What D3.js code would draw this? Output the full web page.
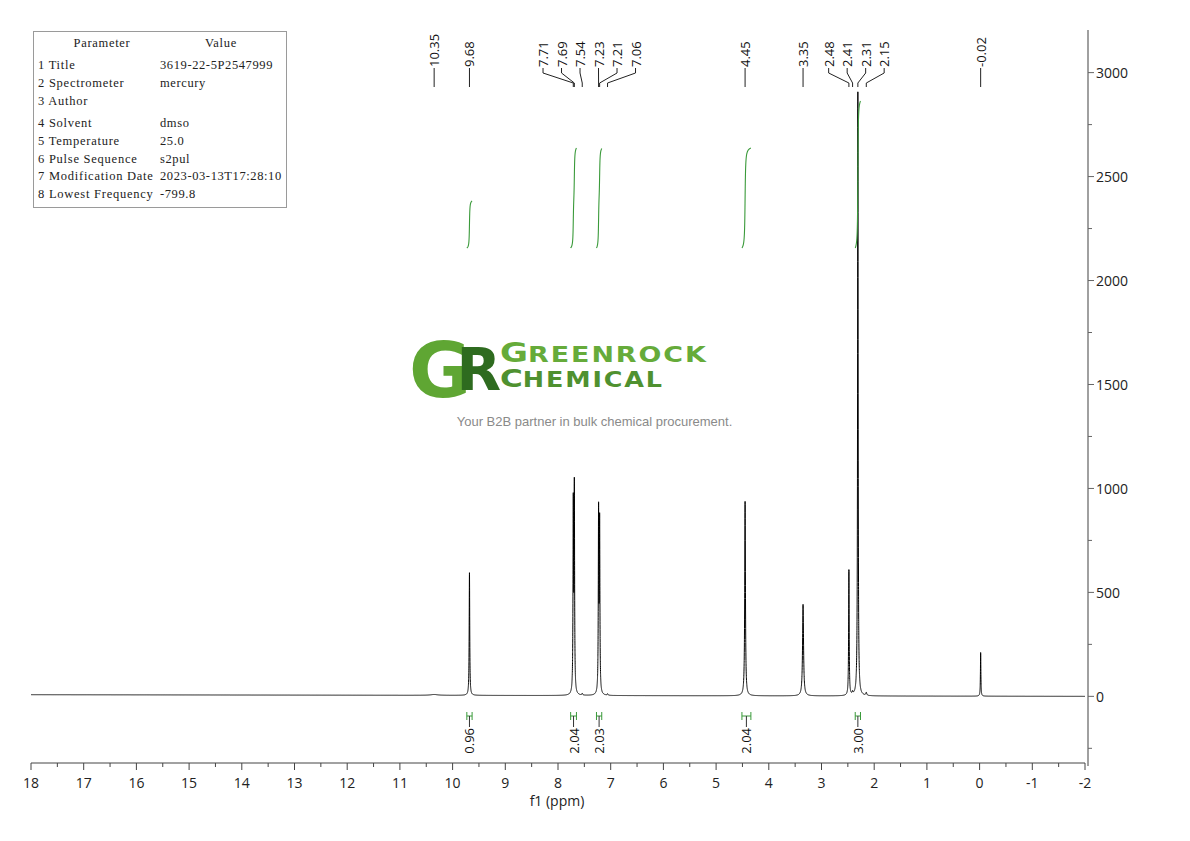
<!DOCTYPE html>
<html><head><meta charset="utf-8">
<script src="https://cdn.jsdelivr.net/npm/d3@7"></script>
<style>body{margin:0;background:#fff;} svg{display:block;}</style>
</head><body>
<svg id="c" width="1190" height="841"></svg>
<script>
// ---------- data ----------
const peakShifts  = [10.35, 9.68, 7.71, 7.69, 7.54, 7.23, 7.21, 7.06, 4.45, 3.35, 2.48, 2.41, 2.31, 2.15, -0.02];
const peakHeights = [4, 590, 895, 976, 8, 865, 808, 7, 935, 440, 604, 12, 2905, 14, 210];
const peakWidths  = [0.08, 0.006, 0.006, 0.006, 0.008, 0.006, 0.006, 0.008, 0.008, 0.011, 0.006, 0.008, 0.006, 0.01, 0.005];
const peakLabels  = ["10.35","9.68","7.71","7.69","7.54","7.23","7.21","7.06","4.45","3.35","2.48","2.41","2.31","2.15","-0.02"];
const baselineLeft = 8, baselineRight = 0;   // intensity at 18 ppm and -2 ppm
const intFrom   = [9.73, 7.76, 7.27, 4.51, 2.36];
const intTo     = [9.63, 7.65, 7.17, 4.34, 2.26];
const intValues = [0.96, 2.04, 2.03, 2.04, 3.00];
const xTicks = [18,17,16,15,14,13,12,11,10,9,8,7,6,5,4,3,2,1,0,-1,-2];
const xTickLabels = ["18","17","16","15","14","13","12","11","10","9","8","7","6","5","4","3","2","1","0","-1","-2"];
const yTicks = [0,500,1000,1500,2000,2500,3000];
const yTickLabels = ["0","500","1000","1500","2000","2500","3000"];
const paramNames  = ["1 Title","2 Spectrometer","3 Author","4 Solvent","5 Temperature","6 Pulse Sequence","7 Modification Date","8 Lowest Frequency"];
const paramValues = ["3619-22-5P2547999","mercury","","dmso","25.0","s2pul","2023-03-13T17:28:10","-799.8"];

// ---------- scales ----------
const svg = d3.select("#c");
const yDomain = [-335, 3205];
const x = d3.scaleLinear().domain([18, -2]).range([31, 1085]);
const y = d3.scaleLinear().domain(yDomain).range([766, 30]);
const yInt = d3.scaleLinear().domain([0, 3]).range([248, 101]);
const labelFont = "'Open Sans','Noto Sans',sans-serif";

// ---------- spectrum ----------
function baseline(d){ return baselineRight + (baselineLeft - baselineRight) * (d - (-2)) / 20; }
function intensity(d){
  let s = baseline(d);
  for (let i = 0; i < peakShifts.length; i++){
    const w = peakWidths[i], dd = d - peakShifts[i];
    s += peakHeights[i] * w * w / (dd * dd + w * w);
  }
  return s;
}
let samples = d3.range(18, -2.0001, -0.0025);
peakShifts.forEach((p, i) => {
  const w = peakWidths[i];
  samples = samples.concat(d3.range(p - 15 * w, p + 15 * w, w / 8));
  samples.push(p);
});
samples.sort((a, b) => b - a);
const spec = samples.filter(d => d <= 18 && d >= -2).map(d => [d, intensity(d)]);

svg.append("path")
  .attr("d", d3.line().x(d => x(d[0])).y(d => y(d[1]))(spec))
  .attr("fill", "none").attr("stroke", "#000").attr("stroke-width", 1);

// ---------- integral curves ----------
intValues.forEach((v, k) => {
  const pts = spec.filter(d => d[0] <= intFrom[k] && d[0] >= intTo[k]);
  let cum = 0; const c = [[pts[0][0], 0]];
  for (let i = 1; i < pts.length; i++){
    const a = pts[i-1], b = pts[i];
    cum += ((a[1] - baseline(a[0])) + (b[1] - baseline(b[0]))) / 2 * (a[0] - b[0]);
    c.push([b[0], cum]);
  }
  const tot = cum;
  svg.append("path")
    .attr("d", d3.line().x(d => x(d[0])).y(d => yInt(d[1] / tot * v))(c))
    .attr("fill", "none").attr("stroke", "#3a9a3a").attr("stroke-width", 1.1);

  // bottom marker + label
  const x1 = x(intFrom[k]), x2 = x(intTo[k]), xm = (x1 + x2) / 2;
  const g = svg.append("g");
  g.append("path").attr("d", `M${x1},712V720M${x2},712V720M${x1},716H${x2}`)
    .attr("stroke", "#3a9a3a").attr("fill", "none").attr("stroke-width", 1);
  g.append("line").attr("x1", xm).attr("x2", xm).attr("y1", 716).attr("y2", 727)
    .attr("stroke", "#333").attr("stroke-width", 1);
  g.append("text").text(v.toFixed(2))
    .attr("transform", `translate(${xm},728) rotate(-90)`)
    .attr("text-anchor", "end").attr("dominant-baseline", "central")
    .attr("font-family", labelFont).attr("font-size", 13).attr("fill", "#111");
});

// ---------- peak labels (spread clusters) ----------
const spacing = 18.5;
const order = peakShifts.map((p, i) => i).sort((a, b) => x(peakShifts[a]) - x(peakShifts[b]));
let clusters = order.map(i => ({ idx: [i], c: x(peakShifts[i]) }));
let merged = true;
while (merged){
  merged = false;
  for (let j = 0; j < clusters.length - 1; j++){
    const A = clusters[j], B = clusters[j+1];
    const aR = A.c + (A.idx.length - 1) * spacing / 2;
    const bL = B.c - (B.idx.length - 1) * spacing / 2;
    if (bL - aR < spacing){
      const idx = A.idx.concat(B.idx);
      clusters.splice(j, 2, { idx, c: d3.mean(idx, i => x(peakShifts[i])) });
      merged = true; break;
    }
  }
}
clusters.forEach(cl => {
  const n = cl.idx.length;
  cl.idx.forEach((i, m) => {
    const lx = cl.c + (m - (n - 1) / 2) * spacing;
    const px = x(peakShifts[i]);
    svg.append("path").attr("d", `M${lx},68V73L${px},83V87`)
      .attr("fill", "none").attr("stroke", "#222").attr("stroke-width", 1);
    svg.append("text").text(peakLabels[i])
      .attr("transform", `translate(${lx},67) rotate(-90)`)
      .attr("text-anchor", "start").attr("dominant-baseline", "central")
      .attr("font-family", labelFont).attr("font-size", 13).attr("fill", "#111");
  });
});

// ---------- x axis ----------
const xa = svg.append("g");
xa.append("line").attr("x1", x(18)).attr("x2", x(-2)).attr("y1", 763).attr("y2", 763)
  .attr("stroke", "#444").attr("stroke-width", 1);
const xMinor = xTicks.slice(0, -1).map(t => t - 0.5);
xa.selectAll(".mj").data(xTicks).join("line")
  .attr("x1", d => x(d)).attr("x2", d => x(d)).attr("y1", 763).attr("y2", 770)
  .attr("stroke", "#444");
xa.selectAll(".mn").data(xMinor).join("line")
  .attr("x1", d => x(d)).attr("x2", d => x(d)).attr("y1", 763).attr("y2", 767)
  .attr("stroke", "#444");
xa.selectAll("text").data(xTicks).join("text")
  .attr("x", d => x(d)).attr("y", 788).attr("text-anchor", "middle")
  .text((d, i) => xTickLabels[i])
  .attr("font-family", labelFont).attr("font-size", 14).attr("fill", "#222");
svg.append("text").text("f1 (ppm)").attr("x", 557).attr("y", 806).attr("text-anchor", "middle")
  .attr("font-family", labelFont).attr("font-size", 14).attr("fill", "#222");

// ---------- y axis ----------
const ya = svg.append("g");
const yx = 1088;
ya.append("line").attr("x1", yx).attr("x2", yx).attr("y1", y(yDomain[1])).attr("y2", y(yDomain[0]))
  .attr("stroke", "#808080").attr("stroke-width", 1.5);
const yMinor = [-250].concat(yTicks.map(t => t + 250)).filter(t => t >= yDomain[0] && t <= yDomain[1]);
ya.selectAll(".mj").data(yTicks).join("line")
  .attr("x1", yx).attr("x2", yx + 6).attr("y1", d => y(d)).attr("y2", d => y(d)).attr("stroke", "#666");
ya.selectAll(".mn").data(yMinor).join("line")
  .attr("x1", yx).attr("x2", yx + 4).attr("y1", d => y(d)).attr("y2", d => y(d)).attr("stroke", "#666");
ya.selectAll("text").data(yTicks).join("text")
  .attr("x", yx + 8).attr("y", d => y(d)).attr("dominant-baseline", "central")
  .text((d, i) => yTickLabels[i])
  .attr("font-family", labelFont).attr("font-size", 14).attr("fill", "#222");

// ---------- parameter table ----------
const tf = "'Liberation Serif','DejaVu Serif',serif";
const tb = svg.append("g");
tb.append("rect").attr("x", 33.5).attr("y", 31.5).attr("width", 253).attr("height", 176)
  .attr("fill", "#fff").attr("stroke", "#9a9a9a");
tb.append("text").text("Parameter").attr("x", 102).attr("y", 47).attr("text-anchor", "middle")
  .attr("font-family", tf).attr("font-size", 12.5).attr("letter-spacing", 0.7).attr("fill", "#222");
tb.append("text").text("Value").attr("x", 221).attr("y", 47).attr("text-anchor", "middle")
  .attr("font-family", tf).attr("font-size", 12.5).attr("letter-spacing", 0.7).attr("fill", "#222");
const rowY = [69, 87, 105, 127, 145, 163, 180, 198];
paramNames.forEach((n, i) => {
  tb.append("text").text(n).attr("x", 38).attr("y", rowY[i])
    .attr("font-family", tf).attr("font-size", 12.5).attr("letter-spacing", 0.75).attr("fill", "#222");
  tb.append("text").text(paramValues[i]).attr("x", 160).attr("y", rowY[i])
    .attr("font-family", tf).attr("font-size", 12.5).attr("letter-spacing", 0.6).attr("fill", "#222");
});

// ---------- logo ----------
const lg = svg.append("g");
const gr = lg.append("text").attr("x", 409).attr("y", 397)
  .attr("font-family", "'DejaVu Sans',sans-serif").attr("font-weight", "bold");
gr.append("tspan").text("G").attr("font-size", 76).attr("fill", "#5fa633");
gr.append("tspan").text("R").attr("font-size", 58).attr("fill", "#2e6b1f").attr("dx", -15).attr("dy", -7);
function wideText(big, rest, bx, by, targetW, bigSize, restSize, color){
  const t = lg.append("text").attr("font-family", "'DejaVu Sans',sans-serif")
    .attr("fill", color).attr("font-weight", 600);
  t.append("tspan").text(big).attr("font-size", bigSize);
  t.append("tspan").text(rest).attr("font-size", restSize).attr("letter-spacing", 1.5);
  const w = t.node().getComputedTextLength();
  t.attr("transform", `translate(${bx},${by}) scale(${targetW / w},1)`);
}
wideText("G", "REENROCK", 500, 362, 208, 26, 20.5, "#66ab3a");
wideText("C", "HEMICAL", 500, 386.5, 164, 25, 20.5, "#4f9130");
lg.append("text").text("Your B2B partner in bulk chemical procurement.")
  .attr("x", 594.5).attr("y", 425.5).attr("text-anchor", "middle")
  .attr("font-family", "'Liberation Sans',Arial,sans-serif").attr("font-size", 13).attr("fill", "#8a8a8a");
</script>
</body></html>
